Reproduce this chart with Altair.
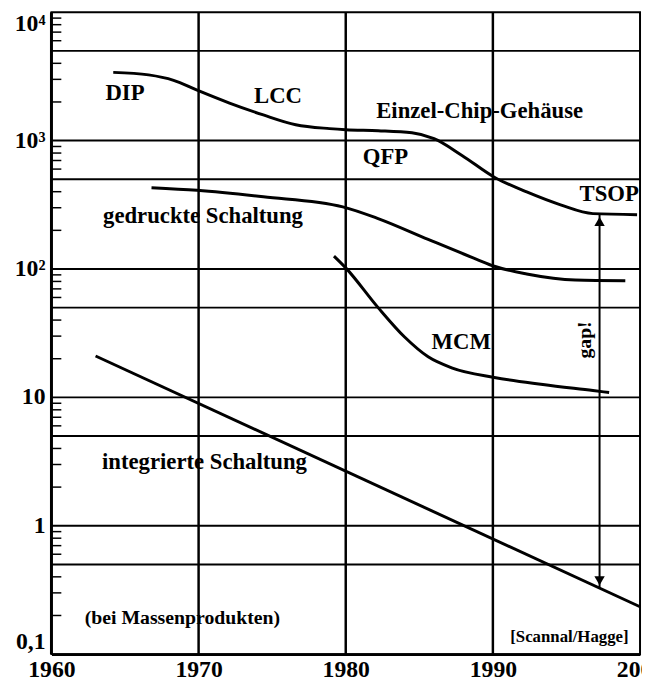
import altair as alt
import pandas as pd

FONT = "Liberation Serif"

# ---- curves ----
ecg_year = [1964.2, 1966.6, 1968.3, 1969.9, 1972.1, 1974.4, 1976.6, 1978.9, 1980.0,
            1982.2, 1984.5, 1986.0, 1987.9, 1990.1, 1992.3, 1994.6, 1996.8, 1999.8]
ecg_val = [3400, 3250, 2950, 2470, 1960, 1585, 1330, 1240, 1215,
           1195, 1150, 1036, 767, 519, 398, 316, 270, 265]

pcb_year = [1966.8, 1969.9, 1974.4, 1979.8, 1982.2, 1985.6, 1988.9, 1990.1, 1992.3, 1995.6, 1999.0]
pcb_val = [430, 410, 365, 305, 247, 170, 119, 105, 91.5, 82, 81]

mcm_year = [1979.2, 1980.0, 1982.2, 1984.0, 1985.6, 1987.2, 1990.1, 1993.4, 1996.8, 1997.9]
mcm_val = [126, 102, 50, 29.5, 20.7, 17, 14.3, 12.6, 11.3, 10.9]

ic_year = [1963.0, 2000.0]
ic_val = [21, 0.234]

# gap arrow
gap_year = [1997.25]
gap_top = [265]
gap_bottom = [0.33]

# grid lines
hgrid_vals = [5000, 1000, 500, 100, 50, 10, 5, 1, 0.5]
vgrid_years = [1970, 1980, 1990]
axis_years = [1960]
minor_mult = [2, 3, 4, 6, 7, 8, 9]
decades = [0.1, 1, 10, 100, 1000]
minor_vals = [m * d for d in decades for m in minor_mult]

# axis ticks
x_tick_vals = [1960, 1970, 1980, 1990, 2000]
y_mid_vals = [1, 10, 100, 1000]
y_mid_labels = ["1", "10", "10²", "10³"]
y_top_vals = [10000]
y_top_labels = ["10⁴"]
y_bot_vals = [0.1]
y_bot_labels = ["0,1"]

# annotations
lab_text = ["DIP", "LCC", "Einzel-Chip-Gehäuse", "QFP", "TSOP",
            "gedruckte Schaltung", "MCM", "integrierte Schaltung"]
lab_year = [1965.0, 1975.4, 1989.1, 1982.7, 1997.9, 1970.3, 1987.85, 1970.4]
lab_val = [2340, 2220, 1700, 740, 385, 256, 27, 3.16]

gap_text = ["gap!"]
gap_lab_year = [1996.25]
gap_lab_val = [28]

note_text = ["(bei Massenprodukten)"]
note_year = [1968.9]
note_val = [0.19]

src_text = ["[Scannal/Hagge]"]
src_year = [1995.2]
src_val = [0.137]

# ---- build ----
curves_df = pd.concat([
    pd.DataFrame({"year": ecg_year, "value": ecg_val, "series": "ecg"}),
    pd.DataFrame({"year": pcb_year, "value": pcb_val, "series": "pcb"}),
    pd.DataFrame({"year": mcm_year, "value": mcm_val, "series": "mcm"}),
    pd.DataFrame({"year": ic_year, "value": ic_val, "series": "ic"}),
], ignore_index=True)

xs = alt.Scale(domain=[1960, 2000], nice=False, zero=False)
ys = alt.Scale(type="log", domain=[0.1, 10000], nice=False)

x_axis = alt.Axis(values=x_tick_vals, format="d", labelPadding=4, labelFlush=False,
                  ticks=False, domainWidth=3, domainColor="black", grid=False,
                  labelFont=FONT, labelFontSize=24, labelColor="black",
                  labelFontWeight="bold")


def X(field):
    return alt.X(field, scale=xs, title=None)


def Y(field):
    return alt.Y(field, scale=ys, axis=None, title=None)


hgrid = alt.Chart(pd.DataFrame({"value": hgrid_vals})).mark_rule(
    color="black", strokeWidth=2).encode(y=Y("value:Q"))

vgrid = alt.Chart(pd.DataFrame({"year": vgrid_years})).mark_rule(
    color="black", strokeWidth=2.5).encode(
    x=alt.X("year:Q", scale=xs, axis=x_axis, title=None))

left_axis = alt.Chart(pd.DataFrame({"year": axis_years})).mark_rule(
    color="black", strokeWidth=3).encode(x=X("year:Q"))

# inward minor ticks on the left axis (placed at the axis year, shifted into the plot)
minor_df = pd.DataFrame({"value": minor_vals, "year": axis_years * len(minor_vals)})
minor = alt.Chart(minor_df).mark_tick(
    color="black", thickness=1.5, size=10, orient="horizontal", opacity=1, xOffset=5).encode(
    y=Y("value:Q"), x=X("year:Q"))

curves = alt.Chart(curves_df).mark_line(
    color="black", strokeWidth=3, interpolate="monotone").encode(
    x=X("year:Q"), y=Y("value:Q"), detail="series:N")

gap_df = pd.DataFrame({"year": gap_year, "top": gap_top, "bottom": gap_bottom})
arrow = alt.Chart(gap_df).mark_rule(color="black", strokeWidth=2).encode(
    x=X("year:Q"), y=Y("top:Q"), y2="bottom:Q")
head_up = alt.Chart(gap_df).mark_point(
    shape="triangle-up", filled=True, color="black", size=110, opacity=1, yOffset=7).encode(
    x=X("year:Q"), y=Y("top:Q"))
head_down = alt.Chart(gap_df).mark_point(
    shape="triangle-down", filled=True, color="black", size=110, opacity=1, yOffset=-7).encode(
    x=X("year:Q"), y=Y("bottom:Q"))


def text_layer(texts, years, vals, size, angle=0, weight="bold"):
    df = pd.DataFrame({"t": texts, "year": years, "value": vals})
    kw = dict(font=FONT, fontSize=size, fontWeight=weight, color="black",
              align="center", baseline="middle")
    if angle:
        kw["angle"] = angle
    return alt.Chart(df).mark_text(**kw).encode(
        x=X("year:Q"), y=Y("value:Q"), text="t:N")


def ylab_layer(texts, vals, baseline):
    df = pd.DataFrame({"t": texts, "value": vals})
    return alt.Chart(df).mark_text(
        font=FONT, fontSize=24, fontWeight="bold", color="black",
        align="right", baseline=baseline).encode(
        y=Y("value:Q"), x=alt.value(-6), text="t:N")


ylab_mid = ylab_layer(y_mid_labels, y_mid_vals, "middle")
ylab_top = ylab_layer(y_top_labels, y_top_vals, "top")
ylab_bot = ylab_layer(y_bot_labels, y_bot_vals, "bottom")

labels = text_layer(lab_text, lab_year, lab_val, 23)
gap_lab = text_layer(gap_text, gap_lab_year, gap_lab_val, 20, angle=270)
note = text_layer(note_text, note_year, note_val, 20)
src = text_layer(src_text, src_year, src_val, 17)

chart = alt.layer(
    hgrid, vgrid, left_axis, curves, arrow, head_up, head_down,
    labels, gap_lab, note, src, ylab_mid, ylab_top, ylab_bot, minor
).properties(
    width=596, height=650,
    autosize=alt.AutoSizeParams(type="none"),
    padding={"left": 44, "top": 0, "right": 2, "bottom": 29},
    background="white",
).configure_view(
    stroke="black", strokeWidth=2
)

chart.save("out.html", embed_options={"renderer": "svg", "actions": False})
